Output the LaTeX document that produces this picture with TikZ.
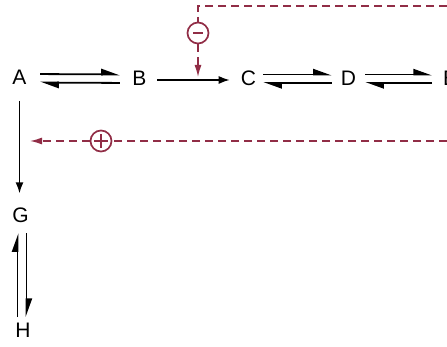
\documentclass[tikz,border=0pt]{standalone}
\usepackage{fontspec}
\setmainfont{Liberation Sans}
\usetikzlibrary{arrows.meta,calc}
\definecolor{fbred}{RGB}{145,45,70}
\begin{document}
\begin{tikzpicture}[x=1pt,y=-1pt,
  lbl/.style={inner sep=0pt,font=\fontsize{21}{21}\selectfont},
  harp/.style={line width=1.8pt,-{Triangle[harpoon,length=16pt,width=11pt]}},
  main/.style={line width=1.6pt,-{Latex[length=11pt,width=8pt]}},
  fb/.style={fbred,line width=1.4pt,dash pattern=on 8pt off 5pt},
  fbtip/.style={-{Latex[length=12pt,width=7pt]}},
  sign/.style={circle,draw=fbred,line width=1.7pt,minimum size=21pt,inner sep=0pt}]
\useasboundingbox (0,0) rectangle (447,347);
\clip (0,0) rectangle (447,347);
% species
\node[lbl] (A) at (19.5,77.5) {A};
\node[lbl] (B) at (139.5,78) {B};
\node[lbl] (C) at (248.5,78) {C};
\node[lbl] (D) at (348.5,78) {D};
\node[lbl,anchor=west] (E) at (443,78) {E};
\node[lbl] (G) at (20.5,215) {G};
\node[lbl] (H) at (23,330) {H};
% A <=> B
\draw[harp,shorten <=13.5pt,shorten >=12.5pt] ([yshift=3.5pt]A.east) -- ([yshift=3.5pt]B.west);
\draw[harp,shorten <=12.5pt,shorten >=13.5pt] ([yshift=-5pt]B.west) -- ([yshift=-5pt]A.east);
% B -> C
\draw[main,shorten <=10.5pt,shorten >=11pt] ([yshift=-2pt]B.east) -- ([yshift=-2pt]C.west);
% C <=> D
\draw[harp,shorten <=7pt,shorten >=9pt] ([yshift=3.5pt]C.east) -- ([yshift=3.5pt]D.west);
\draw[harp,shorten <=9pt,shorten >=7pt] ([yshift=-5pt]D.west) -- ([yshift=-5pt]C.east);
% D <=> E
\draw[harp,shorten <=9pt,shorten >=11pt] ([yshift=3.5pt]D.east) -- ([yshift=3.5pt]E.west);
\draw[harp,shorten <=11pt,shorten >=9pt] ([yshift=-5pt]E.west) -- ([yshift=-5pt]D.east);
% A -> G
\draw[main,shorten <=16pt,shorten >=14pt] (A.south) -- (A.south |- G.north);
% G <=> H
\draw[harp,shorten <=5.5pt,shorten >=10.5pt] ([xshift=-3pt]G.south |- H.north) -- ([xshift=-3pt]G.south);
\draw[harp,shorten <=10.5pt,shorten >=5.5pt] ([xshift=6pt]G.south) -- ([xshift=6pt]G.south |- H.north);
% feedback: inhibition
\node[sign] (m) at (198,33) {};
\draw[fbred,line width=1.8pt] ([xshift=-5pt]m.center) -- ([xshift=5pt]m.center);
\coordinate (tr) at (460,6);
\coordinate (tc) at (198,6);
\coordinate (t1) at (198,77);
\draw[fb] (tr) -- (tc) -- (m.north);
\draw[fb,fbtip] (m.south) -- (t1);
% feedback: activation
\node[sign] (p) at (101,141) {};
\draw[fbred,line width=1.5pt] ([xshift=-7pt]p.center) -- ([xshift=7pt]p.center);
\draw[fbred,line width=1.5pt] ([yshift=-7pt]p.center) -- ([yshift=7pt]p.center);
\coordinate (br) at (460,141);
\draw[fb] (br) -- (p.east);
\draw[fb,fbtip] (p.west) -- ([xshift=10.5pt]A.center |- p.west);
\end{tikzpicture}
\end{document}
